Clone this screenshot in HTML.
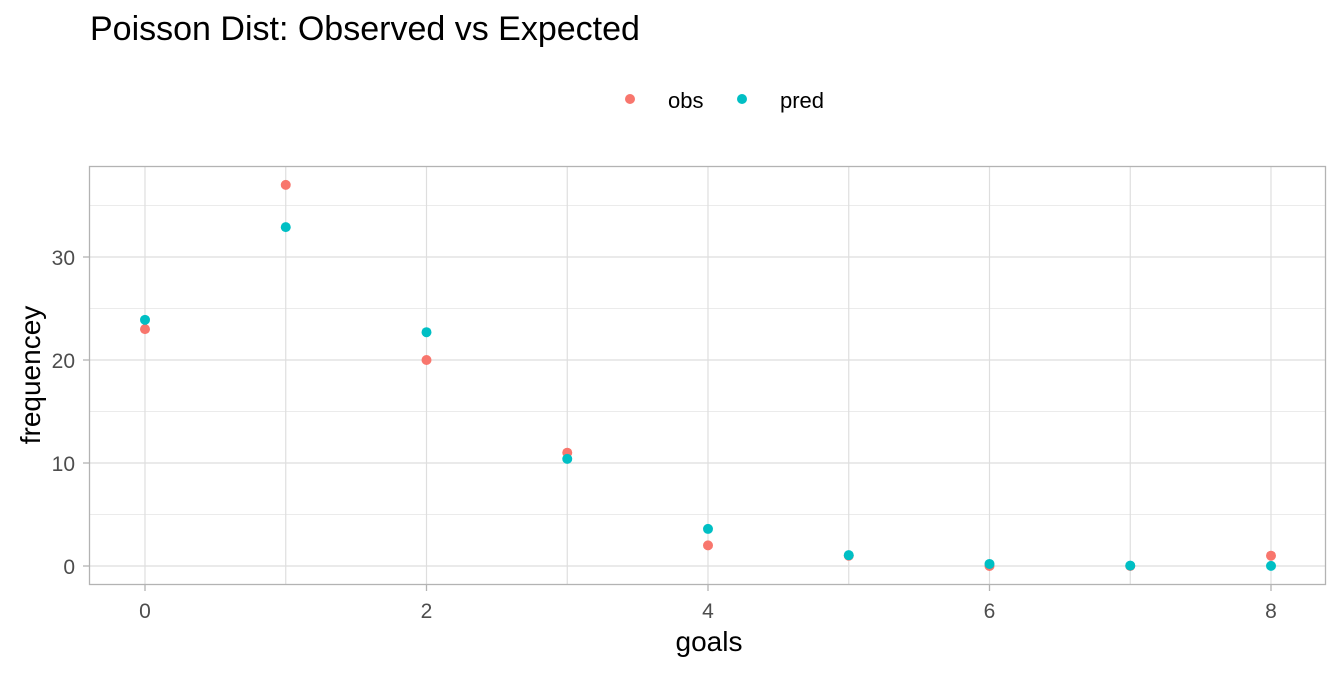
<!DOCTYPE html>
<html><head><meta charset="utf-8"><style>
body{margin:0;background:#fff;font-family:"Liberation Sans",sans-serif}
</style></head><body>
<svg id="chart" width="1344" height="672" xmlns="http://www.w3.org/2000/svg" font-family="Liberation Sans, sans-serif">
<text x="90" y="40" font-size="34" fill="#000">Poisson Dist: Observed vs Expected</text>
<g>
<g><circle cx="630" cy="99" r="5" fill="#F8766D"/><text x="668" y="108" font-size="22" fill="#000">obs</text></g>
<g><circle cx="742" cy="99" r="5" fill="#00BFC4"/><text x="780" y="108" font-size="22" fill="#000">pred</text></g>
</g>
<g id="grid"></g>
<g id="pts"></g>
<rect x="89.5" y="166.5" width="1236" height="418" fill="none" stroke="#b3b3b3" stroke-width="1.3"/>
<g id="axes"></g>
<text x="709" y="651" font-size="28" text-anchor="middle" fill="#000">goals</text>
<text transform="translate(40,375) rotate(-90)" font-size="28" text-anchor="middle" fill="#000">frequencey</text>
</svg>
<script>
const goals=[0,1,2,3,4,5,6,7,8];
const obs=[23,37,20,11,2,1,0,0,1];
const pred=[23.9,32.9,22.7,10.4,3.6,1.05,0.2,0.04,0.01];
const yTicks=[0,10,20,30];
const yMinor=[5,15,25,35];
const xTicks=[0,2,4,6,8];
const NS="http://www.w3.org/2000/svg";
const x=v=>145+v*140.75;
const y=v=>566-v*10.3;
function mk(t,a,p){const e=document.createElementNS(NS,t);for(const k in a)e.setAttribute(k,a[k]);p.appendChild(e);return e;}
const grid=document.getElementById('grid'),axes=document.getElementById('axes'),pts=document.getElementById('pts');
yMinor.forEach(v=>{const l=mk('line',{x1:90,x2:1325,y1:y(v),y2:y(v),stroke:'#ebebeb','stroke-width':1},grid);

});
goals.forEach(v=>{const l=mk('line',{x1:x(v),x2:x(v),y1:167,y2:584,stroke:'#dedede','stroke-width':1.2},grid);

});
yTicks.forEach(v=>{const l=mk('line',{x1:90,x2:1325,y1:y(v),y2:y(v),stroke:'#dedede','stroke-width':1.2},grid);


const t=mk('line',{x1:83,x2:89,y1:y(v),y2:y(v),stroke:'#b3b3b3','stroke-width':1.3},axes);


const tx=mk('text',{x:75,y:y(v)+8,'font-size':21,'text-anchor':'end',fill:'#4d4d4d'},axes);tx.textContent=v;

});
xTicks.forEach(v=>{const t=mk('line',{x1:x(v),x2:x(v),y1:585,y2:591,stroke:'#b3b3b3','stroke-width':1.3},axes);


const tx=mk('text',{x:x(v),y:618,'font-size':21,'text-anchor':'middle',fill:'#4d4d4d'},axes);tx.textContent=v;

});
goals.forEach((g,i)=>{const c=mk('circle',{cx:x(g),cy:y(obs[i]),r:5,fill:'#F8766D'},pts);

});
goals.forEach((g,i)=>{const c=mk('circle',{cx:x(g),cy:y(pred[i]),r:5,fill:'#00BFC4'},pts);

});
</script>
</body></html>
